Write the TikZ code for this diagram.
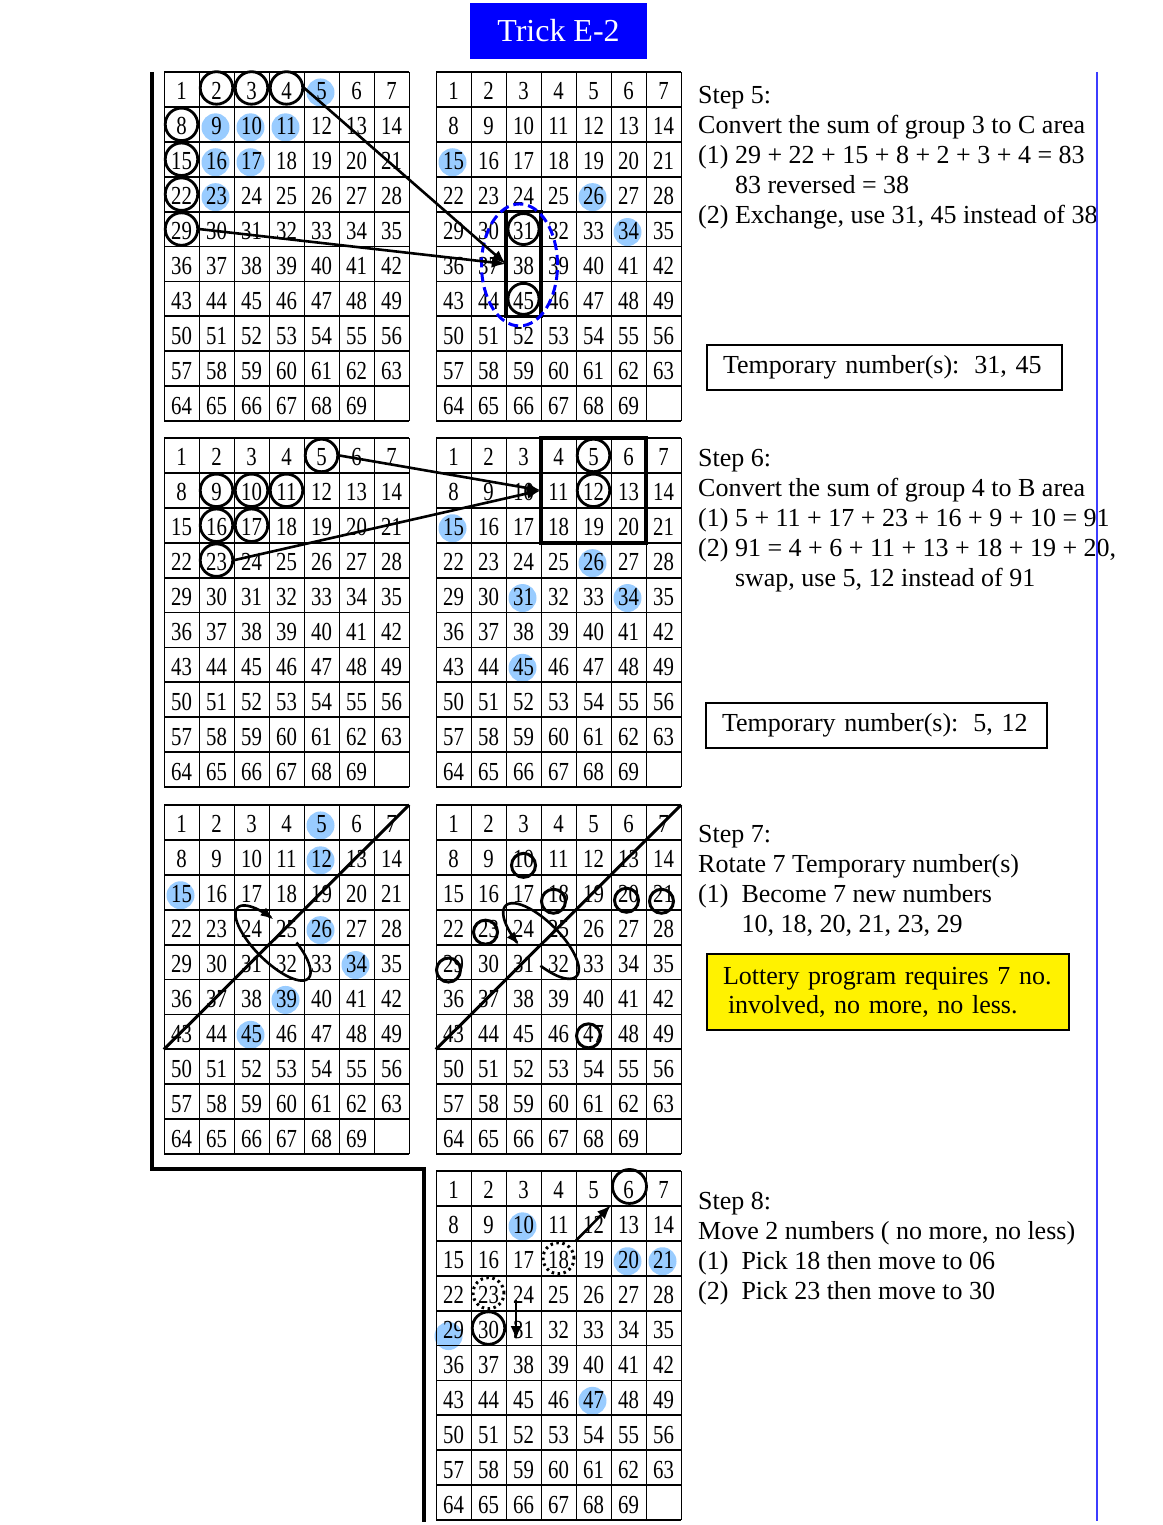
\documentclass[tikz,border=0pt]{standalone}
\usepackage{fontspec}
\setmainfont{Liberation Serif}
\usetikzlibrary{calc, arrows.meta}
\definecolor{dotblue}{RGB}{153,204,255}
\definecolor{edgeblue}{RGB}{60,60,255}
\newcommand\cellfont{\fontsize{26}{26}\selectfont}
\newcommand\txtfont{\fontsize{26}{30}\selectfont}
\tikzset{numcell/.style={inner sep=0pt, minimum width=35pt, minimum height=34.9pt, text height=21pt, text depth=0pt, font=\cellfont}}
\tikzset{hline/.style={line width=1.8pt}}
\tikzset{vline/.style={line width=1pt}}
\tikzset{ring/.style={draw, circle, line width=2.8pt, minimum size=32.5pt, inner sep=0pt}}
\tikzset{smallring/.style={draw, circle, line width=3pt, minimum size=24pt, inner sep=0pt}}
\tikzset{dotring/.style={draw, circle, line width=3pt, minimum size=31pt, inner sep=0pt, dash pattern=on 2.5pt off 3.5pt}}
\tikzset{bluedot/.style={fill=dotblue}}
\tikzset{arr/.style={line width=2.6pt, -{Latex[length=14pt,width=11pt]}}}
\tikzset{spin/.style={line width=2.6pt}}
\tikzset{selbox/.style={line width=3.5pt}}
\tikzset{steptext/.style={anchor=north west, align=left, inner sep=0pt, font=\txtfont}}
\tikzset{tempbox/.style={draw, line width=2pt, align=left, inner xsep=16pt, inner ysep=0pt, font=\txtfont}}
\pgfdeclarelayer{bg}
\pgfsetlayers{bg,main}
% one 7x10 board: name, left x, top y
\newcommand\numgrid[3]{%
  \foreach \n in {1,...,69}{%
    \pgfmathtruncatemacro\cidx{mod(\n-1,7)}%
    \pgfmathtruncatemacro\ridx{div(\n-1,7)}%
    \node[numcell] (#1-\n) at ({#2+35*\cidx+17.5},{#3+34.9*\ridx+17.45}) {\scalebox{0.8}[1]{\n}};%
  }%
  \foreach \i in {0,...,7} \draw[vline] ({#2+35*\i},#3) -- ({#2+35*\i},{#3+349});%
  \foreach \j in {0,...,10} \draw[hline] (#2,{#3+34.9*\j}) -- ({#2+245},{#3+34.9*\j});%
}

\begin{document}
\begin{tikzpicture}[x=1pt, y=-1pt]
  \useasboundingbox (0,0) rectangle (1162,1525);
  % Title
  \node[fill=blue, text=white, minimum width=177pt, minimum height=56pt, font=\fontsize{32}{32}\selectfont] (title) at (558.5,31) {Trick E-2};

  % Boards
  \numgrid{g5a}{164}{72}
  \numgrid{g5b}{436}{72}
  \numgrid{g6a}{164}{438}
  \numgrid{g6b}{436}{438}
  \numgrid{g7a}{164}{805}
  \numgrid{g7b}{436}{805}
  \numgrid{g8}{436}{1171}

  % Blue marks behind the numbers
  \begin{pgfonlayer}{bg}
    \foreach \g/\k in {g5a/5,g5a/9,g5a/10,g5a/11,g5a/16,g5a/17,g5a/23,g5b/15,g5b/26,g5b/34,g6b/15,g6b/26,g6b/31,g6b/34,g6b/45,g7a/5,g7a/12,g7a/15,g7a/26,g7a/34,g7a/39,g7a/45,g8/10,g8/20,g8/21,g8/47}
      \fill[bluedot] ($(\g-\k)+(-1,3)$) circle (14pt);
    \fill[bluedot] ($(g8-29)+(-5,8)$) circle (14pt);
  \end{pgfonlayer}

  % Step 5
  \foreach \k in {2,3,4} \node[ring] (r5-\k) at ($(g5a-\k)+(0,-1.5)$) {};
  \foreach \k in {8,15,22,29} \node[ring] (r5-\k) at (g5a-\k) {};
  \foreach \k in {31,45} \node[ring, minimum size=31pt] (t5-\k) at (g5b-\k) {};
  \draw[selbox] (g5b-31.north west) rectangle (g5b-45.south east);
  \draw[blue, line width=3pt, dash pattern=on 10pt off 5pt] ($(g5b-38)+(-4,1)$) ellipse (38pt and 61pt);
  \draw[arr] (r5-4.east) -- (g5b-38.west);
  \draw[arr] (r5-29.east) -- (g5b-38.west);

  % Step 6
  \foreach \k in {5,9,10,11,16,17,23} \node[ring] (r6-\k) at (g6a-\k) {};
  \foreach \k in {5,12} \node[ring] (t6-\k) at (g6b-\k) {};
  \draw[selbox] (g6b-4.north west) rectangle (g6b-20.south east);
  \draw[arr] (r6-5.east) -- (g6b-11.west);
  \draw[arr] (r6-23.east) -- (g6b-11.west);

  % Step 7
  \draw[line width=3pt] (g7a-43.south west) -- (g7a-7.north east);
  \draw[line width=3pt] (g7b-43.south west) -- (g7b-7.north east);
  \draw[spin, {Latex[length=13pt,width=10pt]}-] plot[domain=-251:71, samples=80, smooth]
    ({273+0.707*(50*cos(\x)+18*sin(\x))},{943+0.707*(50*cos(\x)-18*sin(\x))});
  \draw[spin, -{Latex[length=13pt,width=10pt]}] plot[domain=-70:255, samples=80, smooth]
    ({541+0.707*(50*cos(\x)+19*sin(\x))},{941+0.707*(50*cos(\x)-19*sin(\x))});
  \foreach \k/\dx/\dy in {10/0/8,18/-5/9,20/-2/8,21/-2/9,23/-3/5,29/-5/8,47/-5/4}
    \node[smallring] (s7-\k) at ($(g7b-\k)+(\dx,\dy)$) {};

  % Step 8
  \node[ring, minimum size=34pt] (r8-6) at ($(g8-6)+(1,-2)$) {};
  \node[ring] (r8-30) at (g8-30) {};
  \node[dotring] (d8-18) at (g8-18) {};
  \node[dotring] (d8-23) at (g8-23) {};
  \coordinate (m1) at ($(g8-24)+(-7.5,7)$);
  \coordinate (m2) at ($(g8-31)+(-7.5,12)$);
  \draw[arr, shorten <=8pt, shorten >=8pt] (d8-18) -- (r8-6);
  \draw[arr] (m1) -- (m2);

  % Explanations
  \node[steptext] (step5) at (698,86) {Step 5:\\
    Convert the sum of group 3 to C area\\
    (1) 29 + 22 + 15 + 8 + 2 + 3 + 4 = 83\\
    \hphantom{(1) }83 reversed = 38\\
    (2) Exchange, use 31, 45 instead of 38};
  \node[steptext] (step6) at (698,449) {Step 6:\\
    Convert the sum of group 4 to B area\\
    (1) 5 + 11 + 17 + 23 + 16 + 9 + 10 = 91\\
    (2) 91 = 4 + 6 + 11 + 13 + 18 + 19 + 20,\\
    \hphantom{(1) }swap, use 5, 12 instead of 91};
  \node[steptext] (step7) at (698,825) {Step 7:\\
    Rotate 7 Temporary number(s)\\
    (1)\ \ Become 7 new numbers\\
    \hphantom{(1)\ \ }10, 18, 20, 21, 23, 29};
  \node[steptext] (step8) at (698,1192) {Step 8:\\
    Move 2 numbers ( no more, no less)\\
    (1)\ \ Pick 18 then move to 06\\
    (2)\ \ Pick 23 then move to 30};

  \node[tempbox, text width=323pt, minimum height=45pt] (temp5) at (884.5,367.5) {Temporary number(s):\hspace{15pt}31, 45};
  \node[tempbox, text width=309pt, minimum height=45pt] (temp6) at (876.5,725.5) {Temporary number(s):\hspace{15pt}5, 12};
  \node[tempbox, fill=yellow, text width=330pt, minimum height=76pt, font=\fontsize{26}{29}\selectfont] (rule7) at (888,992)
    {Lottery program requires 7 no.\\\hspace*{5pt}involved, no more, no less.};

  % Frame lines
  \draw[line width=4.5pt] (152,72) -- (152,1169) -- (424,1169) -- (424,1522);
  \draw[edgeblue, line width=2pt] (1097,72) -- (1097,1521);
\end{tikzpicture}
\end{document}
